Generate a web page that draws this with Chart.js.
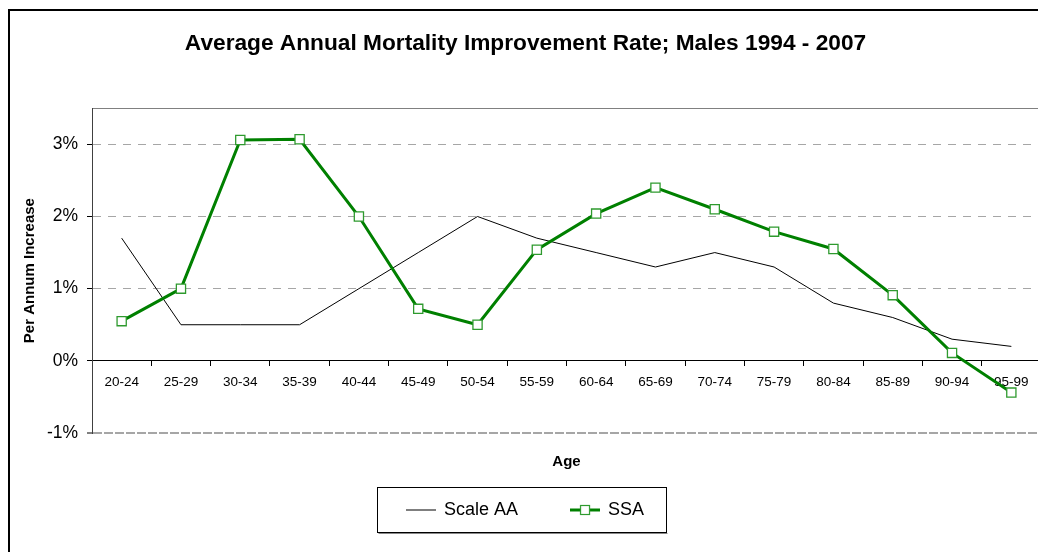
<!DOCTYPE html>
<html>
<head>
<meta charset="utf-8">
<title>Average Annual Mortality Improvement Rate</title>
<script src="https://cdn.jsdelivr.net/npm/chart.js@4.4.0/dist/chart.umd.min.js"></script>
<style>
  html, body { margin: 0; padding: 0; background: #fff; overflow: hidden; }
  #frame { position: absolute; left: 8px; top: 9px; width: 1100px; height: 600px; border: 2px solid #000; box-sizing: border-box; }
  #chart { position: absolute; left: 0; top: 0; }
</style>
</head>
<body>
<div id="frame"></div>
<canvas id="chart" width="1060" height="552"></canvas>
<script>
// age bands on the x axis
const ageGroups = ['20-24', '25-29', '30-34', '35-39', '40-44', '45-49', '50-54', '55-59',
                   '60-64', '65-69', '70-74', '75-79', '80-84', '85-89', '90-94', '95-99'];

// improvement rates in percent
const scaleAA = [1.7, 0.5, 0.5, 0.5, 1.0, 1.5, 2.0, 1.7, 1.5, 1.3, 1.5, 1.3, 0.8, 0.6, 0.3, 0.2];
const ssa = [0.55, 1.0, 3.06, 3.07, 2.0, 0.72, 0.5, 1.54, 2.04, 2.4, 2.1, 1.79, 1.55, 0.91, 0.11, -0.44];

// y axis ticks (percent)
const yTicks = [-1, 0, 1, 2, 3];
const yMin = -1;
const yMax = 3.5;

const FONT = "'Liberation Sans', Arial, sans-serif";
Chart.defaults.font.family = FONT;
Chart.defaults.color = '#000';

// little pictures for the legend entries
function legendSample(color, width, square) {
    const c = document.createElement('canvas');
    c.width = 30;
    c.height = 12;
    const g = c.getContext('2d');
    g.strokeStyle = color;
    g.lineWidth = width;
    g.beginPath();
    g.moveTo(0, 6);
    g.lineTo(30, 6);
    g.stroke();
    if (square) {
        g.fillStyle = '#fff';
        g.fillRect(10.5, 1.5, 9, 9);
        g.strokeStyle = '#2e9a2e';
        g.lineWidth = 1.2;
        g.strokeRect(10.5, 1.5, 9, 9);
    }
    return c;
}
const samples = [legendSample('#555', 1.5, false), legendSample('#008000', 3, true)];

// box around the legend
const legendFrame = {
    id: 'legendFrame',
    afterDraw(chart) {
        const hb = chart.legend && chart.legend.legendHitBoxes;
        if (!hb || !hb.length) return;
        const first = hb[0];
        const last = hb[hb.length - 1];
        const cy = first.top + first.height / 2;
        const x0 = Math.round(first.left - 30) + 0.5;
        const x1 = Math.round(last.left + last.width + 22) + 0.5;
        const y0 = Math.round(cy - 23) + 0.5;
        const y1 = Math.round(cy + 22) + 0.5;
        const g = chart.ctx;
        g.save();
        g.strokeStyle = '#000';
        g.lineWidth = 1;
        g.strokeRect(x0, y0, x1 - x0, y1 - y0);
        g.strokeStyle = '#888';
        g.beginPath();
        g.moveTo(x0 + 1, y1 + 1);
        g.lineTo(x1 + 1, y1 + 1);
        g.stroke();
        g.restore();
    }
};

const tickVal = c => (c.tick ? c.tick.value : null);

new Chart(document.getElementById('chart'), {
    type: 'line',
    data: {
        labels: ageGroups,
        datasets: [
            {
                label: 'Scale AA',
                data: scaleAA,
                borderColor: '#000',
                borderWidth: 1,
                pointRadius: 0,
                tension: 0,
                order: 1,
                xAxisID: 'x',
                yAxisID: 'y'
            },
            {
                label: 'SSA',
                data: ssa,
                borderColor: '#008000',
                borderWidth: 3,
                pointStyle: 'rect',
                pointRadius: 6.5,
                pointBackgroundColor: '#fff',
                pointBorderColor: '#2e9a2e',
                pointBorderWidth: 1.3,
                tension: 0,
                order: 0,
                xAxisID: 'x',
                yAxisID: 'y'
            }
        ]
    },
    options: {
        responsive: false,
        animation: false,
        layout: { padding: { left: 10, right: 19, top: 2, bottom: 23 } },
        plugins: {
            title: {
                display: true,
                text: 'Average Annual Mortality Improvement Rate; Males 1994 - 2007',
                color: '#000',
                font: { size: 22.7, weight: 'bold' },
                padding: { top: 28, bottom: 51 }
            },
            legend: {
                position: 'bottom',
                labels: {
                    color: '#000',
                    font: { size: 18 },
                    usePointStyle: true,
                    pointStyleWidth: 28,
                    padding: 53,
                    sort: (a, b) => a.datasetIndex - b.datasetIndex,
                    generateLabels: chart => {
                        const items = Chart.defaults.plugins.legend.labels.generateLabels(chart);
                        items.forEach(it => { it.pointStyle = samples[it.datasetIndex]; });
                        return items;
                    }
                }
            },
            tooltip: { enabled: false }
        },
        scales: {
            x: {
                type: 'category',
                position: { y: 0 },
                offset: true,
                grid: {
                    drawOnChartArea: false,
                    drawTicks: true,
                    tickLength: 5,
                    offset: true,
                    color: '#000'
                },
                border: { color: '#000', width: 1 },
                ticks: {
                    autoSkip: false,
                    maxRotation: 0,
                    padding: 8,
                    color: '#000',
                    font: { size: 13.5 }
                },
                afterFit: s => { s.height = 0; }
            },
            x2: {
                type: 'category',
                position: 'bottom',
                offset: true,
                grid: { display: false },
                border: { display: false },
                ticks: { display: false },
                title: {
                    display: true,
                    text: 'Age',
                    color: '#000',
                    font: { size: 15, weight: 'bold' },
                    padding: { top: 12, bottom: -23 }
                }
            },
            y: {
                type: 'linear',
                position: 'left',
                min: yMin,
                max: yMax,
                afterBuildTicks: s => {
                    s.ticks = yTicks.concat([yMax]).map(v => ({ value: v }));
                },
                afterFit: s => { s.width = 82; },
                ticks: {
                    padding: 9,
                    color: '#000',
                    font: { size: 17.5 },
                    callback: v => (yTicks.includes(v) ? v + '%' : '')
                },
                grid: {
                    color: c => {
                        const v = tickVal(c);
                        if (v === 0) return '#000';
                        if (v === yMax) return '#808080';
                        return '#a6a6a6';
                    },
                    lineWidth: c => (tickVal(c) === yMin ? 2 : 1),
                    tickLength: 5,
                    tickWidth: 1,
                    tickColor: c => (tickVal(c) === yMax ? 'rgba(0,0,0,0)' : '#000')
                },
                border: {
                    color: '#404040',
                    width: 1,
                    dash: c => {
                        const v = tickVal(c);
                        if (v === null || v === 0 || v === yMax) return [];
                        if (v === yMin) return [9, 2];
                        return [8, 7];
                    }
                },
                title: {
                    display: true,
                    text: 'Per Annum Increase',
                    color: '#000',
                    font: { size: 15, weight: 'bold' },
                    padding: { top: 11, bottom: 0 }
                }
            }
        }
    },
    plugins: [legendFrame]
});
</script>
</body>
</html>
